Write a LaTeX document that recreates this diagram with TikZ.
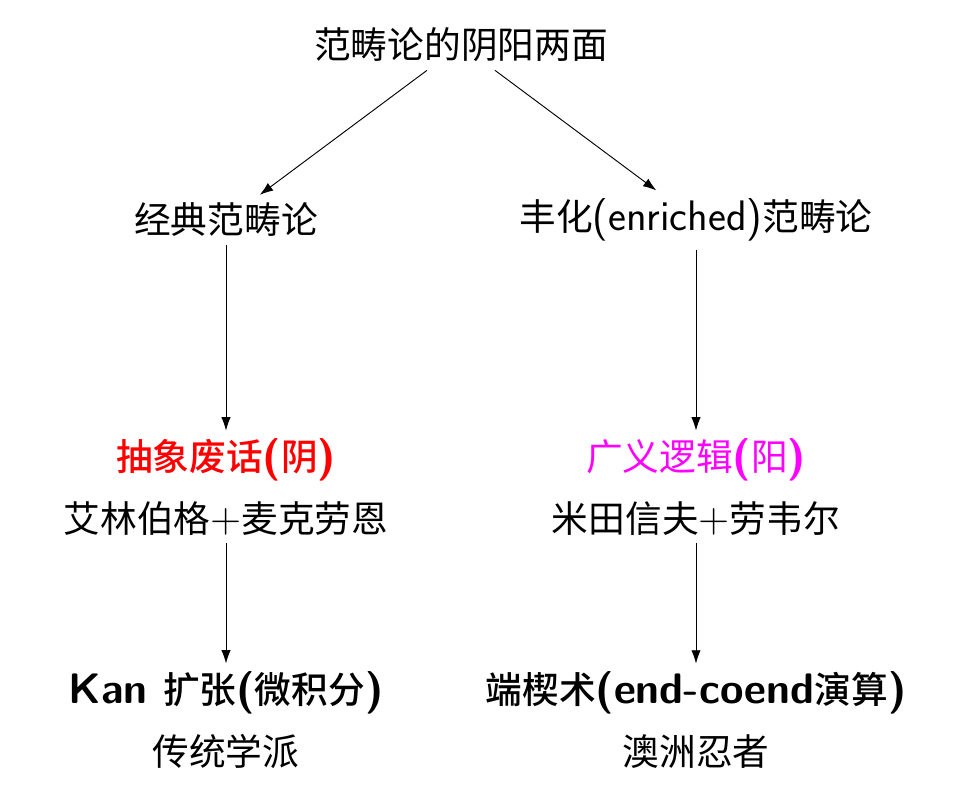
\documentclass[tikz,border=0pt]{standalone}
\usepackage{fontspec}
\newfontfamily\cjk[Scale=0.86,BoldFont={Noto Sans CJK SC Medium}]{Noto Sans CJK SC}
\usetikzlibrary{arrows.meta}
\definecolor{yincol}{RGB}{255,0,0}
\definecolor{yangcol}{RGB}{255,0,255}
\begin{document}
\begin{tikzpicture}[x=0.75pt,y=-0.75pt,
  txt/.style={font=\sffamily\fontsize{32}{46}\selectfont, align=center, inner sep=6pt},
  arr/.style={-{Latex[length=10pt,width=7pt]}, line width=0.7pt}]
\useasboundingbox (0,0) rectangle (965,797);
\node[txt] (t) at (461,45) {\cjk 范畴论的阴阳两面};
\node[txt] (l1) at (226,220) {{\cjk 经典范畴论}};
\node[txt] (r1) at (696,220) {{\cjk 丰化}(enriched){\cjk 范畴论}};
\node[txt] (l2) at (226,487) {\textcolor{yincol}{\bfseries{\cjk 抽象废话}({\cjk 阴})}\\{\cjk 艾林伯格}+{\cjk 麦克劳恩}};
\node[txt] (r2) at (696,487) {\textcolor{yangcol}{{\cjk 广义逻辑}{\bfseries(}{\cjk 阳}{\bfseries)}}\\{\cjk 米田信夫}+{\cjk 劳韦尔}};
\node[txt] (l3) at (226,720) {{\bfseries Kan {\cjk 扩张}({\cjk 微积分})}\\{\cjk 传统学派}};
\node[txt] (r3) at (696,720) {{\bfseries{\cjk 端楔术}(end-coend{\cjk 演算})}\\{\cjk 澳洲忍者}};
\draw[arr] (t) -- (l1);
\draw[arr] (t) -- (r1);
\draw[arr] (l1) -- (l2);
\draw[arr] (r1) -- (r2);
\draw[arr] (l2) -- (l3);
\draw[arr] (r2) -- (r3);
\end{tikzpicture}
\end{document}
